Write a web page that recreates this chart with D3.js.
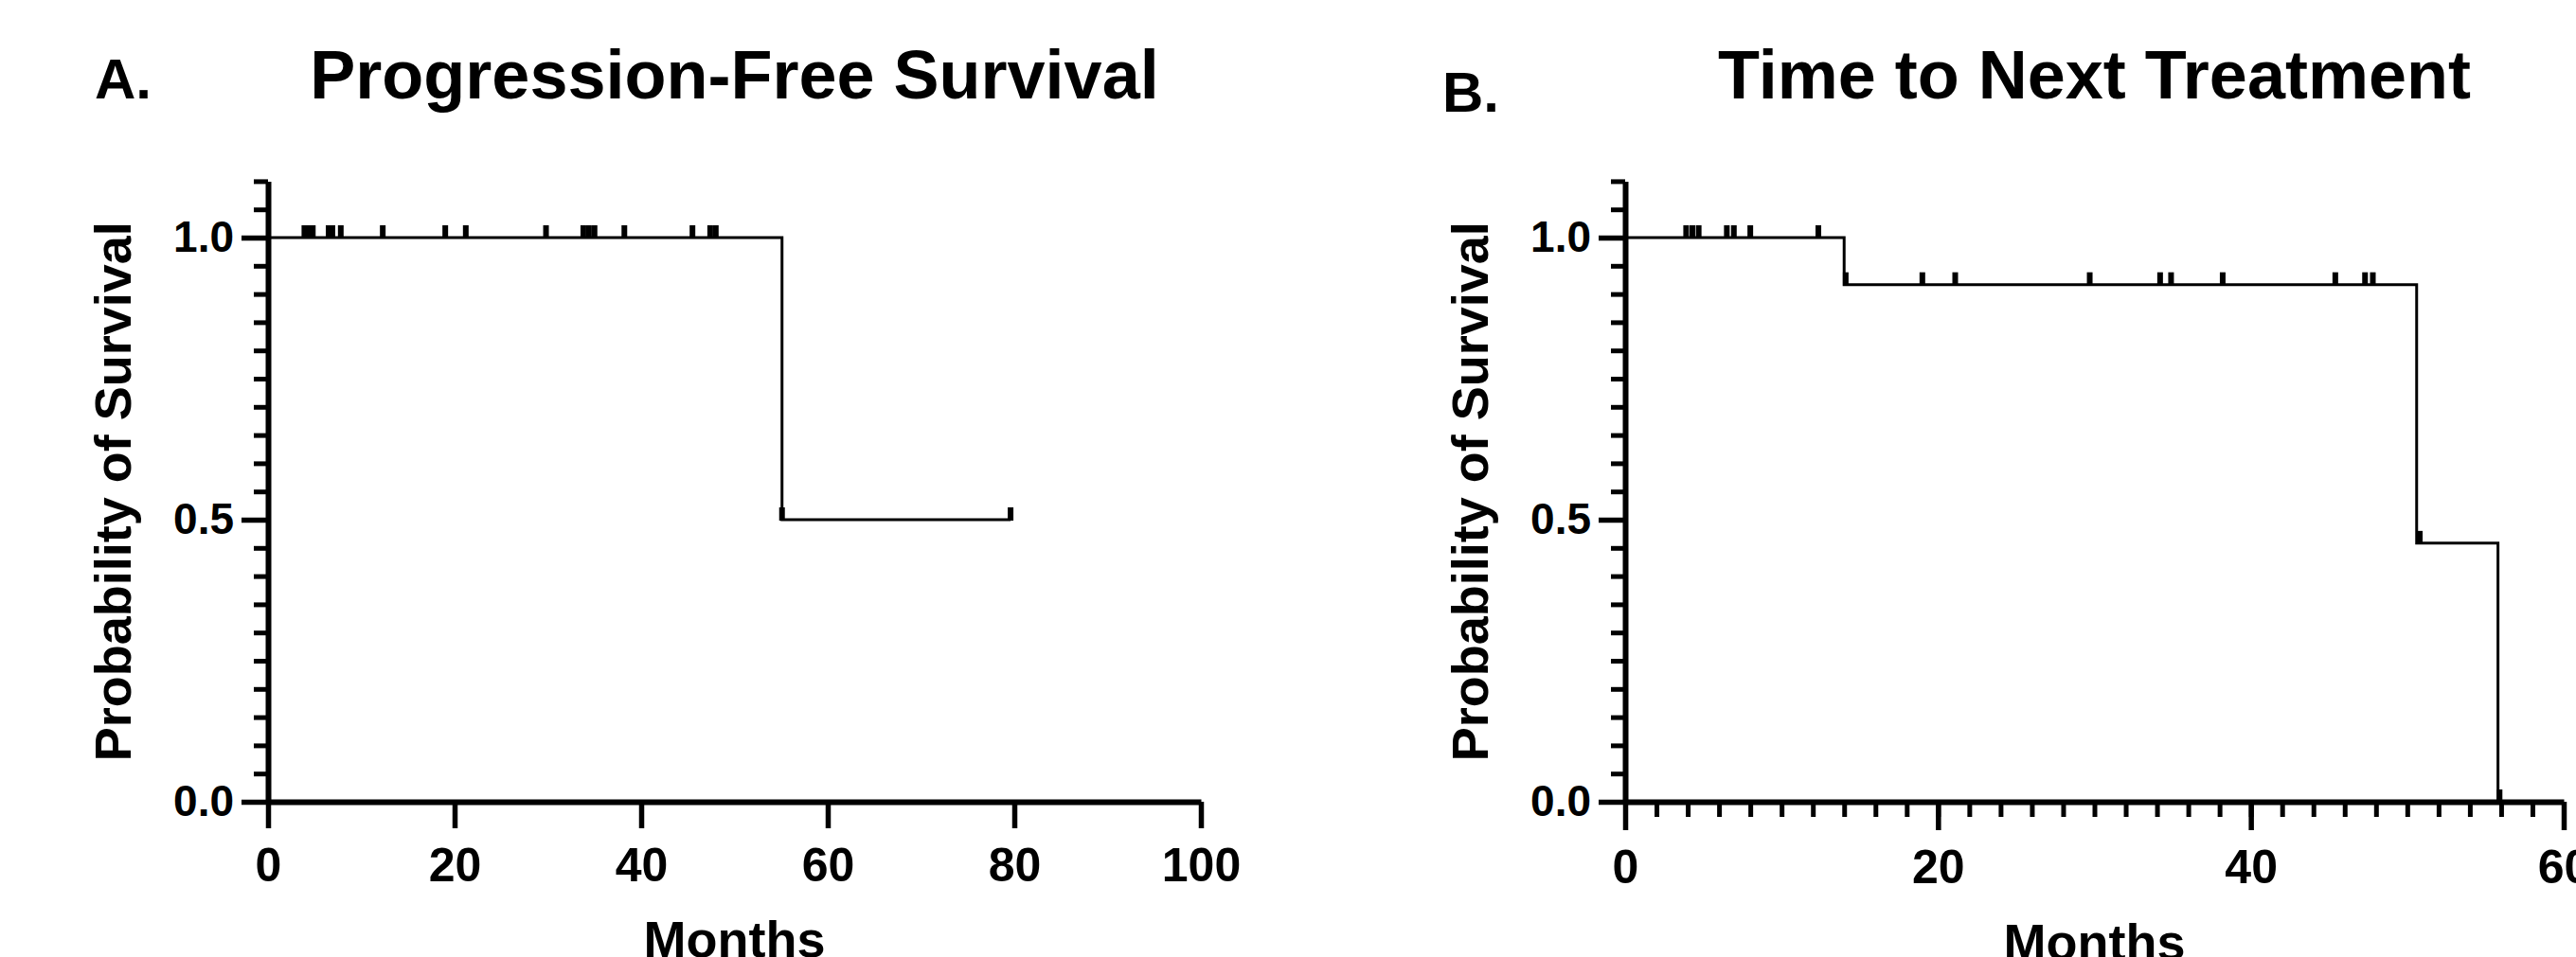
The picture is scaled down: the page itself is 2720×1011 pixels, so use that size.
<!DOCTYPE html>
<html lang="en">
<head>
<meta charset="utf-8">
<title>Survival curves</title>
<script src="https://cdn.jsdelivr.net/npm/d3@7"></script>
<style>
  body { margin: 0; background: #fff; }
  svg text { font-family: "Liberation Sans", Arial, sans-serif; font-weight: bold; fill: #000; }
</style>
</head>
<body>
<script>
// Panel A: Progression-Free Survival (months, survival probability)
var pfsTimes = [0, 55.1, 79.6];
var pfsSurv = [1.0, 0.5, 0.5];
var pfsCensor = [3.9, 4.4, 4.8, 6.5, 6.9, 7.8, 12.3, 19.0, 21.2, 29.8, 33.8, 34.4, 35.0,
                 38.2, 45.5, 47.4, 48.0, 55.1, 79.6];

// Panel B: Time to Next Treatment
var ttntTimes = [0, 14.0, 50.6, 55.8];
var ttntSurv = [1.0, 0.9167, 0.4583, 0.0];
var ttntCensor = [3.9, 4.3, 4.7, 6.5, 6.95, 8.0, 12.35, 14.1, 19.0, 21.1, 29.7, 34.2, 34.9,
                  38.2, 45.4, 47.3, 47.8, 50.8, 55.9];

var yMajor = [0, 0.5, 1.0];
var yMinor = d3.range(0, 23).map(function(i) { return i * 0.05; });
var xMajorA = [0, 20, 40, 60, 80, 100];
var xMajorB = [0, 20, 40, 60];
var xMinorB = d3.range(0, 31).map(function(i) { return i * 2; });

var w = 2720, h = 1011;
var svg = d3.select("body").append("svg")
  .attr("width", w)
  .attr("height", h);

function survAt(times, surv, t) {
  var s = surv[0];
  for (var i = 0; i < times.length; i++) {
    if (times[i] <= t) s = surv[i];
  }
  return s;
}

function panel(opt) {
  var x = d3.scaleLinear().domain([0, opt.xMax]).range([opt.x0, opt.x1]);
  var y = d3.scaleLinear().domain([0, 1.1]).range([847, 847 - 596 * 1.1]);
  var g = svg.append("g");

  // y axis: minor then major
  var yMin = g.append("g").attr("transform", "translate(" + opt.x0 + ",0)")
    .call(d3.axisLeft(y).tickValues(yMinor).tickSize(15).tickSizeOuter(0).tickFormat(""));
  yMin.select(".domain").remove();
  yMin.selectAll("line").attr("stroke-width", 5);

  var yMaj = g.append("g").attr("transform", "translate(" + opt.x0 + ",0)")
    .call(d3.axisLeft(y).tickValues(yMajor).tickSize(28).tickSizeOuter(0).tickPadding(8)
      .tickFormat(d3.format(".1f")));
  yMaj.select(".domain").attr("stroke-width", 6);
  yMaj.selectAll("line").attr("stroke-width", 5.5);
  yMaj.selectAll("text").attr("font-size", 46);

  // x axis
  if (opt.xMinor) {
    var xMin = g.append("g").attr("transform", "translate(0,847)")
      .call(d3.axisBottom(x).tickValues(opt.xMinor).tickSize(16).tickSizeOuter(0).tickFormat(""));
    xMin.select(".domain").remove();
    xMin.selectAll("line").attr("stroke-width", 5);
  }
  var xMaj = g.append("g").attr("transform", "translate(0,847)")
    .call(d3.axisBottom(x).tickValues(opt.xMajor).tickSize(opt.tickX).tickSizeOuter(0).tickPadding(20));
  xMaj.select(".domain").attr("stroke-width", 6);
  xMaj.selectAll("line").attr("stroke-width", 5.5);
  xMaj.selectAll("text").attr("font-size", 50);

  // survival step curve
  var pts = opt.times.map(function(t, i) { return [t, opt.surv[i]]; });
  g.append("path")
    .datum(pts)
    .attr("fill", "none")
    .attr("stroke", "#000")
    .attr("stroke-width", 3)
    .attr("d", d3.line()
      .x(function(d) { return x(d[0]); })
      .y(function(d) { return y(d[1]); })
      .curve(d3.curveStepAfter));

  // censor marks
  g.selectAll(".censor")
    .data(opt.censor)
    .enter().append("line")
    .attr("class", "censor")
    .attr("x1", function(d) { return x(d); })
    .attr("x2", function(d) { return x(d); })
    .attr("y1", function(d) { return y(survAt(opt.times, opt.surv, d)) + 1; })
    .attr("y2", function(d) { return y(survAt(opt.times, opt.surv, d)) - 13; })
    .attr("stroke", "#000")
    .attr("stroke-width", 6);

  // labels
  g.append("text")
    .attr("transform", "translate(" + (opt.x0 - 145) + "," + y(0.55) + ") rotate(-90)")
    .attr("text-anchor", "middle")
    .attr("font-size", 54)
    .text("Probability of Survival");

  g.append("text")
    .attr("x", (opt.x0 + opt.x1) / 2)
    .attr("y", opt.monthsY)
    .attr("text-anchor", "middle")
    .attr("font-size", 54)
    .text("Months");

  g.append("text")
    .attr("x", (opt.x0 + opt.x1) / 2)
    .attr("y", 104)
    .attr("text-anchor", "middle")
    .attr("font-size", 72)
    .text(opt.title);

  g.append("text")
    .attr("x", opt.letterX)
    .attr("y", opt.letterY)
    .attr("font-size", 60)
    .text(opt.letter);
}

panel({
  x0: 283, x1: 1268, xMax: 100, xMajor: xMajorA, tickX: 28,
  times: pfsTimes, surv: pfsSurv, censor: pfsCensor,
  title: "Progression-Free Survival", letter: "A.", letterX: 100, letterY: 104,
  monthsY: 1011
});

panel({
  x0: 1716, x1: 2707, xMax: 60, xMajor: xMajorB, xMinor: xMinorB, tickX: 30,
  times: ttntTimes, surv: ttntSurv, censor: ttntCensor,
  title: "Time to Next Treatment", letter: "B.", letterX: 1523, letterY: 118,
  monthsY: 1014
});
</script>
</body>
</html>
